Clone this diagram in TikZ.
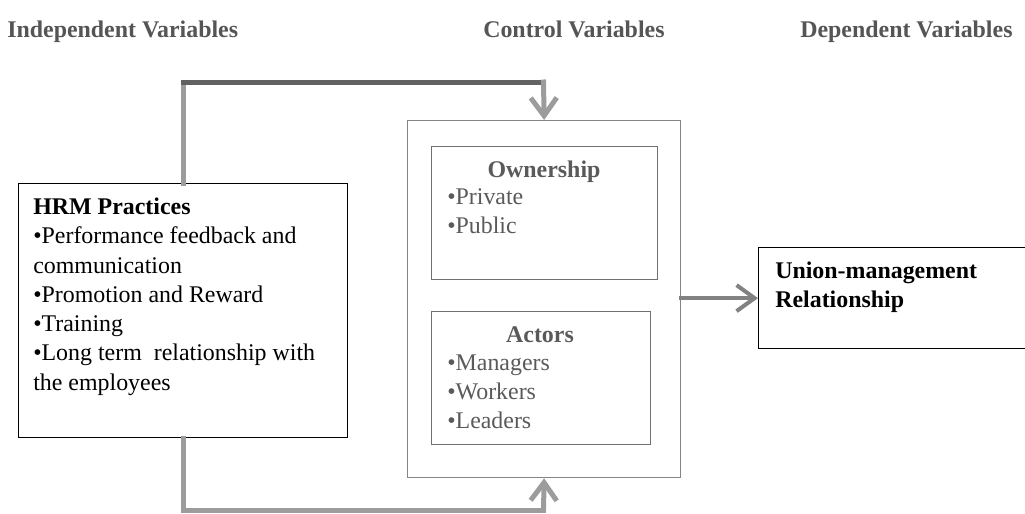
\documentclass[tikz,border=0pt]{standalone}
\usepackage{fontspec}
\setmainfont{Liberation Serif}
\usetikzlibrary{arrows.meta,positioning}
\definecolor{headgray}{HTML}{555555}
\definecolor{textgray}{HTML}{5A5A5A}
\definecolor{ctrlgray}{HTML}{858585}
\definecolor{innergray}{HTML}{707070}
\definecolor{linkgray}{HTML}{9C9C9C}
\definecolor{linkdark}{HTML}{626262}
\definecolor{arrowgray}{HTML}{828282}
\tikzset{
  heading/.style={font=\fontsize{17}{20.5}\selectfont\bfseries, text=headgray},
  body/.style={font=\fontsize{17}{20.8}\selectfont, align=left},
  title/.style={font=\fontsize{17}{20.5}\selectfont\bfseries, text=textgray},
  item/.style={font=\fontsize{17}{20.3}\selectfont, text=textgray, align=left},
  box/.style={draw, line width=0.9pt, anchor=north west},
  link/.style={draw=linkgray, line width=1.25mm, line cap=rect},
  arrow/.style={-{Straight Barb[length=4.5mm, width=6.5mm]}},
}
\begin{document}
\begin{tikzpicture}[x=0.25mm, y=-0.25mm, every node/.style={inner sep=0pt}]
  \useasboundingbox (0,0) rectangle (1025,513);
  % headings
  \node[heading, anchor=base west] (indep) at (7,37) {Independent Variables};
  \node[heading, anchor=base west] (ctrlhead) at (483,37) {Control Variables};
  \node[heading, anchor=base west] (dep) at (800,37) {Dependent Variables};
  % boxes
  \node[box, minimum width=82.25mm, minimum height=63.5mm] (hrm) at (18,183) {};
  \node[box, draw=ctrlgray, minimum width=68.25mm, minimum height=89.25mm] (ctrl) at (407,120) {};
  \node[box, draw=innergray, minimum width=56.5mm, minimum height=33.25mm] (own) at (431,146) {};
  \node[box, draw=innergray, minimum width=54.75mm, minimum height=33.25mm] (actors) at (431,311) {};
  \node[box, minimum width=75mm, minimum height=25.25mm] (union) at (758,247) {};
  % texts (base = last line)
  \node[body, anchor=base west] (hrmtext) at (33,390) {\textbf{HRM Practices}\\•Performance feedback and\\communication\\•Promotion and Reward\\•Training\\•Long term~ relationship with\\the employees};
  \node[title, anchor=base] (ownhead) at (544,177) {Ownership};
  \node[item, anchor=base west] (ownlist) at (447,233) {•Private\\•Public};
  \node[title, anchor=base] (acthead) at (540,342) {Actors};
  \node[item, anchor=base west] (actlist) at (447,428) {•Managers\\•Workers\\•Leaders};
  \node[body, font=\fontsize{17}{20.6}\selectfont\bfseries, anchor=base west] (uniontext) at (775,307) {Union-management\\Relationship};
  % connectors
  \coordinate (topbend) at (543.5,82);
  \coordinate (botbend) at (543.5,510);
  \draw[link] (hrm.north) -- (hrm.north |- topbend);
  \draw[link, draw=linkdark] (hrm.north |- topbend) -- (topbend);
  \draw[link, arrow] (topbend) -- (ctrl.north);
  \draw[link] (hrm.south) |- (botbend);
  \draw[link, arrow] (botbend) -- (ctrl.south);
  \draw[link, draw=arrowgray, line width=1mm, arrow] (ctrl.east |- union.west) -- (union.west);
\end{tikzpicture}
\end{document}
